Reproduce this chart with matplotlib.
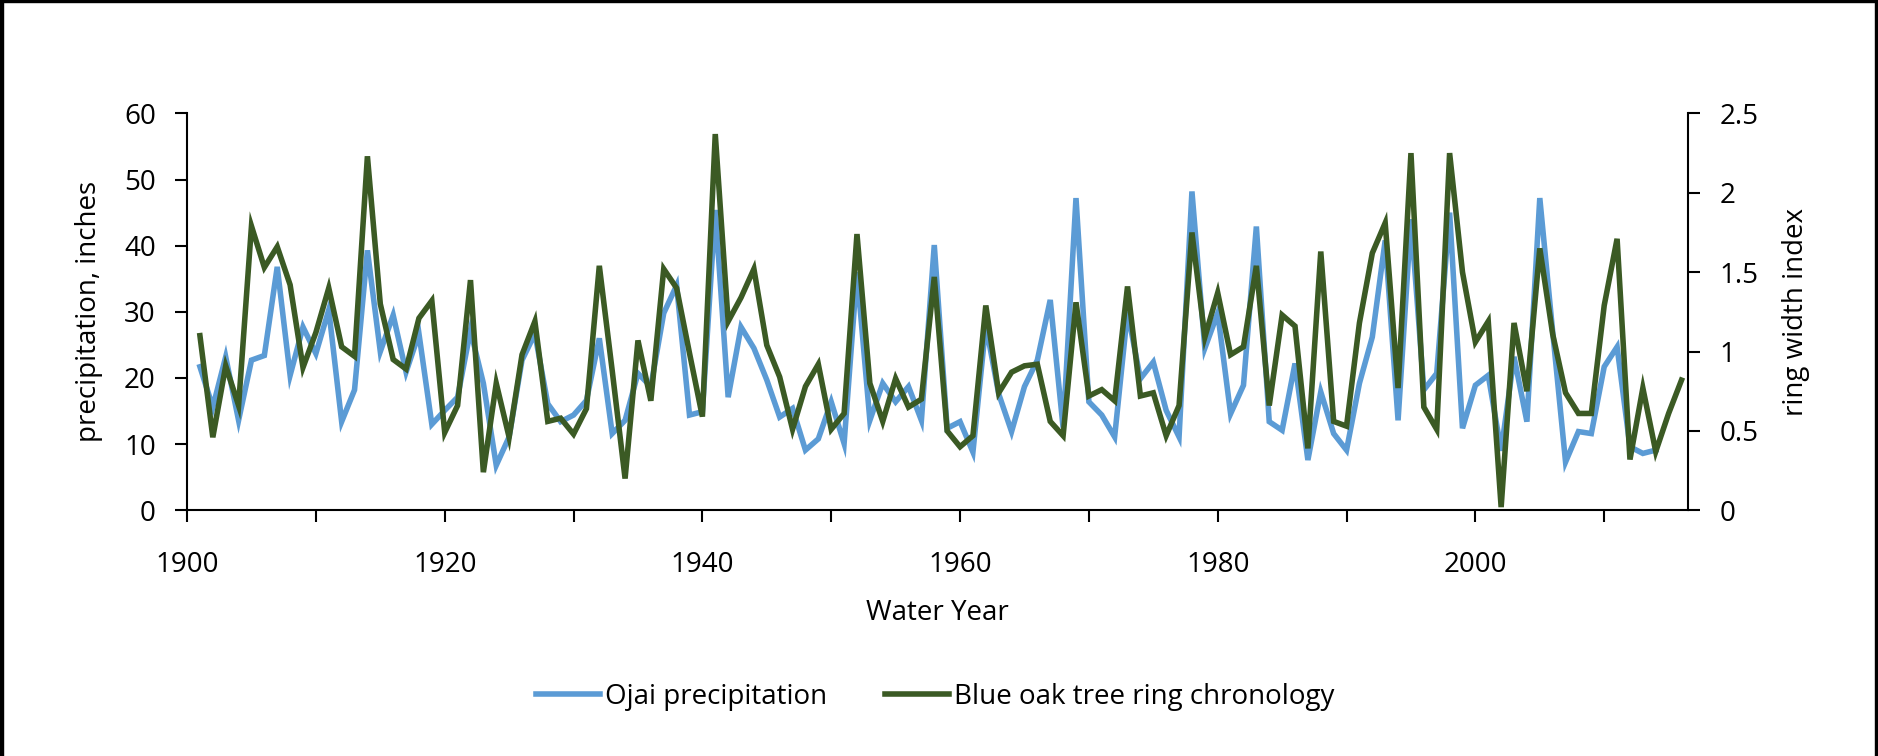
import matplotlib.pyplot as plt
from matplotlib.patches import Rectangle

plt.rcParams['font.family'] = ['Open Sans', 'DejaVu Sans']

# Ojai precipitation (inches), water years 1901-2014
precip_years = list(range(1901, 2015))
precip = [21.7, 15.6, 23.2, 13.6, 22.7, 23.4, 36.8, 20.4, 27.7, 23.7,
          30.3, 13.4, 18.2, 39.3, 24.0, 29.5, 20.9, 26.7, 13.0, 15.1,
          17.1, 27.2, 19.2, 6.8, 11.1, 22.7, 26.7, 16.1, 13.4, 14.4,
          16.6, 26.0, 11.6, 13.6, 20.7, 18.7, 29.8, 34.0, 14.4, 14.9,
          45.4, 17.1, 27.7, 24.5, 19.7, 14.1, 15.4, 9.1, 10.8, 16.4,
          10.1, 36.0, 13.6, 19.2, 16.4, 18.7, 13.6, 40.1, 12.4, 13.4,
          8.8, 28.0, 17.6, 11.9, 18.7, 22.7, 31.8, 12.5, 47.2, 16.4,
          14.4, 11.1, 30.0, 19.9, 22.4, 15.1, 11.1, 48.2, 24.5, 29.8,
          14.6, 18.9, 42.9, 13.4, 12.1, 22.2, 7.6, 17.9, 11.6, 9.1,
          19.2, 26.2, 40.8, 13.6, 44.0, 18.2, 20.7, 45.0, 12.4, 18.9,
          20.4, 9.0, 23.2, 13.4, 47.2, 27.0, 7.3, 11.9, 11.6, 21.7,
          24.7, 9.6, 8.6, 9.1]

# blue oak ring width index, 1901-2016
ring_years = list(range(1901, 2017))
ring = [1.10, 0.46, 0.91, 0.66, 1.79, 1.53, 1.66, 1.42, 0.90, 1.12,
        1.40, 1.03, 0.97, 2.23, 1.30, 0.95, 0.89, 1.21, 1.32, 0.49,
        0.66, 1.45, 0.24, 0.80, 0.46, 0.98, 1.19, 0.56, 0.58, 0.48,
        0.64, 1.54, 0.88, 0.20, 1.07, 0.69, 1.52, 1.40, 0.99, 0.59,
        2.37, 1.19, 1.34, 1.52, 1.04, 0.84, 0.51, 0.78, 0.92, 0.51,
        0.61, 1.74, 0.80, 0.56, 0.83, 0.65, 0.70, 1.47, 0.50, 0.40,
        0.47, 1.29, 0.74, 0.87, 0.91, 0.92, 0.56, 0.47, 1.31, 0.72,
        0.76, 0.69, 1.41, 0.72, 0.74, 0.47, 0.66, 1.75, 1.09, 1.37,
        0.98, 1.03, 1.54, 0.66, 1.23, 1.16, 0.39, 1.63, 0.56, 0.53,
        1.18, 1.62, 1.81, 0.77, 2.25, 0.65, 0.51, 2.25, 1.50, 1.06,
        1.19, 0.02, 1.18, 0.75, 1.65, 1.11, 0.74, 0.61, 0.61, 1.29,
        1.71, 0.32, 0.77, 0.37, 0.61, 0.82]

blue = '#5b9bd5'
green = '#3b5a24'
fs = 20

fig = plt.figure(figsize=(18.78, 7.56), dpi=100)
ax = fig.add_axes([0.0996, 0.325, 0.7992, 0.525])
ax2 = ax.twinx()

l1, = ax.plot(precip_years, precip, color=blue, lw=4, solid_joinstyle='miter',
              label='Ojai precipitation')
l2, = ax2.plot(ring_years, ring, color=green, lw=4, solid_joinstyle='miter',
               label='Blue oak tree ring chronology')

ax.set_xlim(1900, 2016.5)
ax.set_ylim(0, 60)
ax2.set_ylim(0, 2.5)
ax.set_xticks(range(1900, 2001, 20))
ax.set_xticks(range(1910, 2011, 20), minor=True)
ax.set_yticks(range(0, 61, 10))
ax2.set_yticks([0, 0.5, 1, 1.5, 2, 2.5])
ax2.set_yticklabels(['0', '0.5', '1', '1.5', '2', '2.5'])

for a in (ax, ax2):
    a.spines['top'].set_visible(False)
    for s in a.spines.values():
        s.set_linewidth(1.5)
    a.tick_params(which='both', direction='out', length=8.5, width=1.5,
                  labelsize=fs, colors='black', pad=14)
ax.tick_params(axis='x', pad=21)
ax.spines['right'].set_visible(False)
ax2.spines['left'].set_visible(False)
ax2.spines['bottom'].set_visible(False)

ax.set_xlabel('Water Year', fontsize=fs, labelpad=14)
ax.set_ylabel('precipitation, inches', fontsize=fs, labelpad=15)
ax2.set_ylabel('ring width index', fontsize=fs, labelpad=17)

fig.legend(handles=[l1, l2], loc='center', bbox_to_anchor=(0.498, 0.078),
           ncol=2, frameon=False, fontsize=fs, handlelength=2.3,
           handletextpad=0.18, columnspacing=2.1)

# thin black frame on the left, top and right edges
fig.patches.append(Rectangle((0, 0), 3 / 1878, 1, transform=fig.transFigure,
                             color='black', zorder=10))
fig.patches.append(Rectangle((1 - 3 / 1878, 0), 3 / 1878, 1, transform=fig.transFigure,
                             color='black', zorder=10))
fig.patches.append(Rectangle((0, 1 - 1.5 / 756), 1, 1.5 / 756, transform=fig.transFigure,
                             color='black', zorder=10))

fig.savefig('out.png', dpi=100)
